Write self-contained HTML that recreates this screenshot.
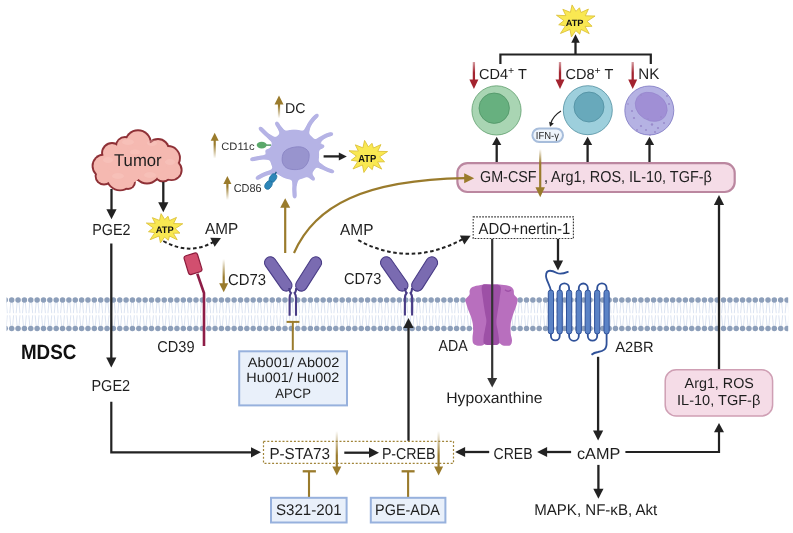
<!DOCTYPE html>
<html><head><meta charset="utf-8"><style>
html,body{margin:0;padding:0;background:#fff;overflow:hidden;}
svg{display:block;will-change:transform;text-rendering:geometricPrecision;font-family:"Liberation Sans",sans-serif;}
</style></head><body>
<svg width="793" height="533" viewBox="0 0 793 533">
<defs><clipPath id="memclip"><rect x="6.5" y="290" width="781.7" height="45"/></clipPath><linearGradient id="g1" gradientUnits="userSpaceOnUse" x1="223.7" y1="259" x2="223.7" y2="292.3"><stop offset="0" stop-color="#9a7b2c" stop-opacity="0.0"/><stop offset="0.55" stop-color="#9a7b2c" stop-opacity="1"/></linearGradient><linearGradient id="g2" gradientUnits="userSpaceOnUse" x1="336.8" y1="431" x2="336.8" y2="475.5"><stop offset="0" stop-color="#9a7b2c" stop-opacity="0.0"/><stop offset="0.55" stop-color="#9a7b2c" stop-opacity="1"/></linearGradient><linearGradient id="g3" gradientUnits="userSpaceOnUse" x1="438.6" y1="431" x2="438.6" y2="475.5"><stop offset="0" stop-color="#9a7b2c" stop-opacity="0.0"/><stop offset="0.55" stop-color="#9a7b2c" stop-opacity="1"/></linearGradient><linearGradient id="g4" gradientUnits="userSpaceOnUse" x1="540.2" y1="149" x2="540.2" y2="197.3"><stop offset="0" stop-color="#9a7b2c" stop-opacity="0.0"/><stop offset="0.3" stop-color="#9a7b2c" stop-opacity="1"/></linearGradient><linearGradient id="g5" gradientUnits="userSpaceOnUse" x1="473.9" y1="62" x2="473.9" y2="89"><stop offset="0" stop-color="#a3232f" stop-opacity="0.45"/><stop offset="0.4" stop-color="#a3232f" stop-opacity="1"/></linearGradient><linearGradient id="g6" gradientUnits="userSpaceOnUse" x1="560" y1="62" x2="560" y2="89"><stop offset="0" stop-color="#a3232f" stop-opacity="0.45"/><stop offset="0.4" stop-color="#a3232f" stop-opacity="1"/></linearGradient><linearGradient id="g7" gradientUnits="userSpaceOnUse" x1="632.7" y1="62" x2="632.7" y2="89"><stop offset="0" stop-color="#a3232f" stop-opacity="0.45"/><stop offset="0.4" stop-color="#a3232f" stop-opacity="1"/></linearGradient><filter id="goo" x="-20%" y="-20%" width="140%" height="140%"><feGaussianBlur in="SourceGraphic" stdDeviation="1.6" result="b"/><feColorMatrix in="b" mode="matrix" values="1 0 0 0 0  0 1 0 0 0  0 0 1 0 0  0 0 0 4.5 -1.9" result="g"/></filter><linearGradient id="g8" gradientUnits="userSpaceOnUse" x1="279" y1="118.3" x2="279" y2="95.6"><stop offset="0" stop-color="#9a7b2c" stop-opacity="0.0"/><stop offset="0.55" stop-color="#9a7b2c" stop-opacity="1"/></linearGradient><linearGradient id="g9" gradientUnits="userSpaceOnUse" x1="214.7" y1="158.6" x2="214.7" y2="132.7"><stop offset="0" stop-color="#9a7b2c" stop-opacity="0.0"/><stop offset="0.55" stop-color="#9a7b2c" stop-opacity="1"/></linearGradient><linearGradient id="g10" gradientUnits="userSpaceOnUse" x1="227.4" y1="200" x2="227.4" y2="176"><stop offset="0" stop-color="#9a7b2c" stop-opacity="0.0"/><stop offset="0.55" stop-color="#9a7b2c" stop-opacity="1"/></linearGradient></defs>
<rect width="793" height="533" fill="#fff"/>
<g clip-path="url(#memclip)">
<path d="M4.44 302 L3.44 313.2 M6.24 302 L7.24 313.2 M4.44 326.5 L3.44 315.3 M6.24 326.5 L7.24 315.3" stroke="#cfd9ec" stroke-width="0.75" fill="none"/>
<path d="M10.8 302 L9.8 313.2 M12.6 302 L13.6 313.2 M10.8 326.5 L9.8 315.3 M12.6 326.5 L13.6 315.3" stroke="#cfd9ec" stroke-width="0.75" fill="none"/>
<path d="M17.16 302 L16.16 313.2 M18.96 302 L19.96 313.2 M17.16 326.5 L16.16 315.3 M18.96 326.5 L19.96 315.3" stroke="#cfd9ec" stroke-width="0.75" fill="none"/>
<path d="M23.51 302 L22.51 313.2 M25.31 302 L26.31 313.2 M23.51 326.5 L22.51 315.3 M25.31 326.5 L26.31 315.3" stroke="#cfd9ec" stroke-width="0.75" fill="none"/>
<path d="M29.87 302 L28.87 313.2 M31.67 302 L32.67 313.2 M29.87 326.5 L28.87 315.3 M31.67 326.5 L32.67 315.3" stroke="#cfd9ec" stroke-width="0.75" fill="none"/>
<path d="M36.22 302 L35.22 313.2 M38.02 302 L39.02 313.2 M36.22 326.5 L35.22 315.3 M38.02 326.5 L39.02 315.3" stroke="#cfd9ec" stroke-width="0.75" fill="none"/>
<path d="M42.58 302 L41.58 313.2 M44.38 302 L45.38 313.2 M42.58 326.5 L41.58 315.3 M44.38 326.5 L45.38 315.3" stroke="#cfd9ec" stroke-width="0.75" fill="none"/>
<path d="M48.93 302 L47.93 313.2 M50.73 302 L51.73 313.2 M48.93 326.5 L47.93 315.3 M50.73 326.5 L51.73 315.3" stroke="#cfd9ec" stroke-width="0.75" fill="none"/>
<path d="M55.29 302 L54.29 313.2 M57.09 302 L58.09 313.2 M55.29 326.5 L54.29 315.3 M57.09 326.5 L58.09 315.3" stroke="#cfd9ec" stroke-width="0.75" fill="none"/>
<path d="M61.64 302 L60.64 313.2 M63.44 302 L64.44 313.2 M61.64 326.5 L60.64 315.3 M63.44 326.5 L64.44 315.3" stroke="#cfd9ec" stroke-width="0.75" fill="none"/>
<path d="M68 302 L67 313.2 M69.8 302 L70.8 313.2 M68 326.5 L67 315.3 M69.8 326.5 L70.8 315.3" stroke="#cfd9ec" stroke-width="0.75" fill="none"/>
<path d="M74.35 302 L73.35 313.2 M76.15 302 L77.15 313.2 M74.35 326.5 L73.35 315.3 M76.15 326.5 L77.15 315.3" stroke="#cfd9ec" stroke-width="0.75" fill="none"/>
<path d="M80.71 302 L79.71 313.2 M82.51 302 L83.51 313.2 M80.71 326.5 L79.71 315.3 M82.51 326.5 L83.51 315.3" stroke="#cfd9ec" stroke-width="0.75" fill="none"/>
<path d="M87.06 302 L86.06 313.2 M88.86 302 L89.86 313.2 M87.06 326.5 L86.06 315.3 M88.86 326.5 L89.86 315.3" stroke="#cfd9ec" stroke-width="0.75" fill="none"/>
<path d="M93.42 302 L92.42 313.2 M95.22 302 L96.22 313.2 M93.42 326.5 L92.42 315.3 M95.22 326.5 L96.22 315.3" stroke="#cfd9ec" stroke-width="0.75" fill="none"/>
<path d="M99.78 302 L98.78 313.2 M101.58 302 L102.58 313.2 M99.78 326.5 L98.78 315.3 M101.58 326.5 L102.58 315.3" stroke="#cfd9ec" stroke-width="0.75" fill="none"/>
<path d="M106.13 302 L105.13 313.2 M107.93 302 L108.93 313.2 M106.13 326.5 L105.13 315.3 M107.93 326.5 L108.93 315.3" stroke="#cfd9ec" stroke-width="0.75" fill="none"/>
<path d="M112.49 302 L111.49 313.2 M114.29 302 L115.29 313.2 M112.49 326.5 L111.49 315.3 M114.29 326.5 L115.29 315.3" stroke="#cfd9ec" stroke-width="0.75" fill="none"/>
<path d="M118.84 302 L117.84 313.2 M120.64 302 L121.64 313.2 M118.84 326.5 L117.84 315.3 M120.64 326.5 L121.64 315.3" stroke="#cfd9ec" stroke-width="0.75" fill="none"/>
<path d="M125.2 302 L124.2 313.2 M127 302 L128 313.2 M125.2 326.5 L124.2 315.3 M127 326.5 L128 315.3" stroke="#cfd9ec" stroke-width="0.75" fill="none"/>
<path d="M131.55 302 L130.55 313.2 M133.35 302 L134.35 313.2 M131.55 326.5 L130.55 315.3 M133.35 326.5 L134.35 315.3" stroke="#cfd9ec" stroke-width="0.75" fill="none"/>
<path d="M137.91 302 L136.91 313.2 M139.71 302 L140.71 313.2 M137.91 326.5 L136.91 315.3 M139.71 326.5 L140.71 315.3" stroke="#cfd9ec" stroke-width="0.75" fill="none"/>
<path d="M144.26 302 L143.26 313.2 M146.06 302 L147.06 313.2 M144.26 326.5 L143.26 315.3 M146.06 326.5 L147.06 315.3" stroke="#cfd9ec" stroke-width="0.75" fill="none"/>
<path d="M150.62 302 L149.62 313.2 M152.42 302 L153.42 313.2 M150.62 326.5 L149.62 315.3 M152.42 326.5 L153.42 315.3" stroke="#cfd9ec" stroke-width="0.75" fill="none"/>
<path d="M156.97 302 L155.97 313.2 M158.77 302 L159.77 313.2 M156.97 326.5 L155.97 315.3 M158.77 326.5 L159.77 315.3" stroke="#cfd9ec" stroke-width="0.75" fill="none"/>
<path d="M163.33 302 L162.33 313.2 M165.13 302 L166.13 313.2 M163.33 326.5 L162.33 315.3 M165.13 326.5 L166.13 315.3" stroke="#cfd9ec" stroke-width="0.75" fill="none"/>
<path d="M169.68 302 L168.68 313.2 M171.48 302 L172.48 313.2 M169.68 326.5 L168.68 315.3 M171.48 326.5 L172.48 315.3" stroke="#cfd9ec" stroke-width="0.75" fill="none"/>
<path d="M176.04 302 L175.04 313.2 M177.84 302 L178.84 313.2 M176.04 326.5 L175.04 315.3 M177.84 326.5 L178.84 315.3" stroke="#cfd9ec" stroke-width="0.75" fill="none"/>
<path d="M182.4 302 L181.4 313.2 M184.2 302 L185.2 313.2 M182.4 326.5 L181.4 315.3 M184.2 326.5 L185.2 315.3" stroke="#cfd9ec" stroke-width="0.75" fill="none"/>
<path d="M188.75 302 L187.75 313.2 M190.55 302 L191.55 313.2 M188.75 326.5 L187.75 315.3 M190.55 326.5 L191.55 315.3" stroke="#cfd9ec" stroke-width="0.75" fill="none"/>
<path d="M195.11 302 L194.11 313.2 M196.91 302 L197.91 313.2 M195.11 326.5 L194.11 315.3 M196.91 326.5 L197.91 315.3" stroke="#cfd9ec" stroke-width="0.75" fill="none"/>
<path d="M201.46 302 L200.46 313.2 M203.26 302 L204.26 313.2 M201.46 326.5 L200.46 315.3 M203.26 326.5 L204.26 315.3" stroke="#cfd9ec" stroke-width="0.75" fill="none"/>
<path d="M207.82 302 L206.82 313.2 M209.62 302 L210.62 313.2 M207.82 326.5 L206.82 315.3 M209.62 326.5 L210.62 315.3" stroke="#cfd9ec" stroke-width="0.75" fill="none"/>
<path d="M214.17 302 L213.17 313.2 M215.97 302 L216.97 313.2 M214.17 326.5 L213.17 315.3 M215.97 326.5 L216.97 315.3" stroke="#cfd9ec" stroke-width="0.75" fill="none"/>
<path d="M220.53 302 L219.53 313.2 M222.33 302 L223.33 313.2 M220.53 326.5 L219.53 315.3 M222.33 326.5 L223.33 315.3" stroke="#cfd9ec" stroke-width="0.75" fill="none"/>
<path d="M226.88 302 L225.88 313.2 M228.68 302 L229.68 313.2 M226.88 326.5 L225.88 315.3 M228.68 326.5 L229.68 315.3" stroke="#cfd9ec" stroke-width="0.75" fill="none"/>
<path d="M233.24 302 L232.24 313.2 M235.04 302 L236.04 313.2 M233.24 326.5 L232.24 315.3 M235.04 326.5 L236.04 315.3" stroke="#cfd9ec" stroke-width="0.75" fill="none"/>
<path d="M239.59 302 L238.59 313.2 M241.39 302 L242.39 313.2 M239.59 326.5 L238.59 315.3 M241.39 326.5 L242.39 315.3" stroke="#cfd9ec" stroke-width="0.75" fill="none"/>
<path d="M245.95 302 L244.95 313.2 M247.75 302 L248.75 313.2 M245.95 326.5 L244.95 315.3 M247.75 326.5 L248.75 315.3" stroke="#cfd9ec" stroke-width="0.75" fill="none"/>
<path d="M252.3 302 L251.3 313.2 M254.1 302 L255.1 313.2 M252.3 326.5 L251.3 315.3 M254.1 326.5 L255.1 315.3" stroke="#cfd9ec" stroke-width="0.75" fill="none"/>
<path d="M258.66 302 L257.66 313.2 M260.46 302 L261.46 313.2 M258.66 326.5 L257.66 315.3 M260.46 326.5 L261.46 315.3" stroke="#cfd9ec" stroke-width="0.75" fill="none"/>
<path d="M265.01 302 L264.01 313.2 M266.81 302 L267.81 313.2 M265.01 326.5 L264.01 315.3 M266.81 326.5 L267.81 315.3" stroke="#cfd9ec" stroke-width="0.75" fill="none"/>
<path d="M271.37 302 L270.37 313.2 M273.17 302 L274.17 313.2 M271.37 326.5 L270.37 315.3 M273.17 326.5 L274.17 315.3" stroke="#cfd9ec" stroke-width="0.75" fill="none"/>
<path d="M277.73 302 L276.73 313.2 M279.53 302 L280.53 313.2 M277.73 326.5 L276.73 315.3 M279.53 326.5 L280.53 315.3" stroke="#cfd9ec" stroke-width="0.75" fill="none"/>
<path d="M284.08 302 L283.08 313.2 M285.88 302 L286.88 313.2 M284.08 326.5 L283.08 315.3 M285.88 326.5 L286.88 315.3" stroke="#cfd9ec" stroke-width="0.75" fill="none"/>
<path d="M290.44 302 L289.44 313.2 M292.24 302 L293.24 313.2 M290.44 326.5 L289.44 315.3 M292.24 326.5 L293.24 315.3" stroke="#cfd9ec" stroke-width="0.75" fill="none"/>
<path d="M296.79 302 L295.79 313.2 M298.59 302 L299.59 313.2 M296.79 326.5 L295.79 315.3 M298.59 326.5 L299.59 315.3" stroke="#cfd9ec" stroke-width="0.75" fill="none"/>
<path d="M303.15 302 L302.15 313.2 M304.95 302 L305.95 313.2 M303.15 326.5 L302.15 315.3 M304.95 326.5 L305.95 315.3" stroke="#cfd9ec" stroke-width="0.75" fill="none"/>
<path d="M309.5 302 L308.5 313.2 M311.3 302 L312.3 313.2 M309.5 326.5 L308.5 315.3 M311.3 326.5 L312.3 315.3" stroke="#cfd9ec" stroke-width="0.75" fill="none"/>
<path d="M315.86 302 L314.86 313.2 M317.66 302 L318.66 313.2 M315.86 326.5 L314.86 315.3 M317.66 326.5 L318.66 315.3" stroke="#cfd9ec" stroke-width="0.75" fill="none"/>
<path d="M322.21 302 L321.21 313.2 M324.01 302 L325.01 313.2 M322.21 326.5 L321.21 315.3 M324.01 326.5 L325.01 315.3" stroke="#cfd9ec" stroke-width="0.75" fill="none"/>
<path d="M328.57 302 L327.57 313.2 M330.37 302 L331.37 313.2 M328.57 326.5 L327.57 315.3 M330.37 326.5 L331.37 315.3" stroke="#cfd9ec" stroke-width="0.75" fill="none"/>
<path d="M334.92 302 L333.92 313.2 M336.72 302 L337.72 313.2 M334.92 326.5 L333.92 315.3 M336.72 326.5 L337.72 315.3" stroke="#cfd9ec" stroke-width="0.75" fill="none"/>
<path d="M341.28 302 L340.28 313.2 M343.08 302 L344.08 313.2 M341.28 326.5 L340.28 315.3 M343.08 326.5 L344.08 315.3" stroke="#cfd9ec" stroke-width="0.75" fill="none"/>
<path d="M347.63 302 L346.63 313.2 M349.43 302 L350.43 313.2 M347.63 326.5 L346.63 315.3 M349.43 326.5 L350.43 315.3" stroke="#cfd9ec" stroke-width="0.75" fill="none"/>
<path d="M353.99 302 L352.99 313.2 M355.79 302 L356.79 313.2 M353.99 326.5 L352.99 315.3 M355.79 326.5 L356.79 315.3" stroke="#cfd9ec" stroke-width="0.75" fill="none"/>
<path d="M360.35 302 L359.35 313.2 M362.15 302 L363.15 313.2 M360.35 326.5 L359.35 315.3 M362.15 326.5 L363.15 315.3" stroke="#cfd9ec" stroke-width="0.75" fill="none"/>
<path d="M366.7 302 L365.7 313.2 M368.5 302 L369.5 313.2 M366.7 326.5 L365.7 315.3 M368.5 326.5 L369.5 315.3" stroke="#cfd9ec" stroke-width="0.75" fill="none"/>
<path d="M373.06 302 L372.06 313.2 M374.86 302 L375.86 313.2 M373.06 326.5 L372.06 315.3 M374.86 326.5 L375.86 315.3" stroke="#cfd9ec" stroke-width="0.75" fill="none"/>
<path d="M379.41 302 L378.41 313.2 M381.21 302 L382.21 313.2 M379.41 326.5 L378.41 315.3 M381.21 326.5 L382.21 315.3" stroke="#cfd9ec" stroke-width="0.75" fill="none"/>
<path d="M385.77 302 L384.77 313.2 M387.57 302 L388.57 313.2 M385.77 326.5 L384.77 315.3 M387.57 326.5 L388.57 315.3" stroke="#cfd9ec" stroke-width="0.75" fill="none"/>
<path d="M392.12 302 L391.12 313.2 M393.92 302 L394.92 313.2 M392.12 326.5 L391.12 315.3 M393.92 326.5 L394.92 315.3" stroke="#cfd9ec" stroke-width="0.75" fill="none"/>
<path d="M398.48 302 L397.48 313.2 M400.28 302 L401.28 313.2 M398.48 326.5 L397.48 315.3 M400.28 326.5 L401.28 315.3" stroke="#cfd9ec" stroke-width="0.75" fill="none"/>
<path d="M404.83 302 L403.83 313.2 M406.63 302 L407.63 313.2 M404.83 326.5 L403.83 315.3 M406.63 326.5 L407.63 315.3" stroke="#cfd9ec" stroke-width="0.75" fill="none"/>
<path d="M411.19 302 L410.19 313.2 M412.99 302 L413.99 313.2 M411.19 326.5 L410.19 315.3 M412.99 326.5 L413.99 315.3" stroke="#cfd9ec" stroke-width="0.75" fill="none"/>
<path d="M417.54 302 L416.54 313.2 M419.34 302 L420.34 313.2 M417.54 326.5 L416.54 315.3 M419.34 326.5 L420.34 315.3" stroke="#cfd9ec" stroke-width="0.75" fill="none"/>
<path d="M423.9 302 L422.9 313.2 M425.7 302 L426.7 313.2 M423.9 326.5 L422.9 315.3 M425.7 326.5 L426.7 315.3" stroke="#cfd9ec" stroke-width="0.75" fill="none"/>
<path d="M430.25 302 L429.25 313.2 M432.05 302 L433.05 313.2 M430.25 326.5 L429.25 315.3 M432.05 326.5 L433.05 315.3" stroke="#cfd9ec" stroke-width="0.75" fill="none"/>
<path d="M436.61 302 L435.61 313.2 M438.41 302 L439.41 313.2 M436.61 326.5 L435.61 315.3 M438.41 326.5 L439.41 315.3" stroke="#cfd9ec" stroke-width="0.75" fill="none"/>
<path d="M442.97 302 L441.97 313.2 M444.77 302 L445.77 313.2 M442.97 326.5 L441.97 315.3 M444.77 326.5 L445.77 315.3" stroke="#cfd9ec" stroke-width="0.75" fill="none"/>
<path d="M449.32 302 L448.32 313.2 M451.12 302 L452.12 313.2 M449.32 326.5 L448.32 315.3 M451.12 326.5 L452.12 315.3" stroke="#cfd9ec" stroke-width="0.75" fill="none"/>
<path d="M455.68 302 L454.68 313.2 M457.48 302 L458.48 313.2 M455.68 326.5 L454.68 315.3 M457.48 326.5 L458.48 315.3" stroke="#cfd9ec" stroke-width="0.75" fill="none"/>
<path d="M462.03 302 L461.03 313.2 M463.83 302 L464.83 313.2 M462.03 326.5 L461.03 315.3 M463.83 326.5 L464.83 315.3" stroke="#cfd9ec" stroke-width="0.75" fill="none"/>
<path d="M468.39 302 L467.39 313.2 M470.19 302 L471.19 313.2 M468.39 326.5 L467.39 315.3 M470.19 326.5 L471.19 315.3" stroke="#cfd9ec" stroke-width="0.75" fill="none"/>
<path d="M474.74 302 L473.74 313.2 M476.54 302 L477.54 313.2 M474.74 326.5 L473.74 315.3 M476.54 326.5 L477.54 315.3" stroke="#cfd9ec" stroke-width="0.75" fill="none"/>
<path d="M481.1 302 L480.1 313.2 M482.9 302 L483.9 313.2 M481.1 326.5 L480.1 315.3 M482.9 326.5 L483.9 315.3" stroke="#cfd9ec" stroke-width="0.75" fill="none"/>
<path d="M487.45 302 L486.45 313.2 M489.25 302 L490.25 313.2 M487.45 326.5 L486.45 315.3 M489.25 326.5 L490.25 315.3" stroke="#cfd9ec" stroke-width="0.75" fill="none"/>
<path d="M493.81 302 L492.81 313.2 M495.61 302 L496.61 313.2 M493.81 326.5 L492.81 315.3 M495.61 326.5 L496.61 315.3" stroke="#cfd9ec" stroke-width="0.75" fill="none"/>
<path d="M500.16 302 L499.16 313.2 M501.96 302 L502.96 313.2 M500.16 326.5 L499.16 315.3 M501.96 326.5 L502.96 315.3" stroke="#cfd9ec" stroke-width="0.75" fill="none"/>
<path d="M506.52 302 L505.52 313.2 M508.32 302 L509.32 313.2 M506.52 326.5 L505.52 315.3 M508.32 326.5 L509.32 315.3" stroke="#cfd9ec" stroke-width="0.75" fill="none"/>
<path d="M512.87 302 L511.87 313.2 M514.67 302 L515.67 313.2 M512.87 326.5 L511.87 315.3 M514.67 326.5 L515.67 315.3" stroke="#cfd9ec" stroke-width="0.75" fill="none"/>
<path d="M519.23 302 L518.23 313.2 M521.03 302 L522.03 313.2 M519.23 326.5 L518.23 315.3 M521.03 326.5 L522.03 315.3" stroke="#cfd9ec" stroke-width="0.75" fill="none"/>
<path d="M525.59 302 L524.59 313.2 M527.39 302 L528.39 313.2 M525.59 326.5 L524.59 315.3 M527.39 326.5 L528.39 315.3" stroke="#cfd9ec" stroke-width="0.75" fill="none"/>
<path d="M531.94 302 L530.94 313.2 M533.74 302 L534.74 313.2 M531.94 326.5 L530.94 315.3 M533.74 326.5 L534.74 315.3" stroke="#cfd9ec" stroke-width="0.75" fill="none"/>
<path d="M538.3 302 L537.3 313.2 M540.1 302 L541.1 313.2 M538.3 326.5 L537.3 315.3 M540.1 326.5 L541.1 315.3" stroke="#cfd9ec" stroke-width="0.75" fill="none"/>
<path d="M544.65 302 L543.65 313.2 M546.45 302 L547.45 313.2 M544.65 326.5 L543.65 315.3 M546.45 326.5 L547.45 315.3" stroke="#cfd9ec" stroke-width="0.75" fill="none"/>
<path d="M551.01 302 L550.01 313.2 M552.81 302 L553.81 313.2 M551.01 326.5 L550.01 315.3 M552.81 326.5 L553.81 315.3" stroke="#cfd9ec" stroke-width="0.75" fill="none"/>
<path d="M557.36 302 L556.36 313.2 M559.16 302 L560.16 313.2 M557.36 326.5 L556.36 315.3 M559.16 326.5 L560.16 315.3" stroke="#cfd9ec" stroke-width="0.75" fill="none"/>
<path d="M563.72 302 L562.72 313.2 M565.52 302 L566.52 313.2 M563.72 326.5 L562.72 315.3 M565.52 326.5 L566.52 315.3" stroke="#cfd9ec" stroke-width="0.75" fill="none"/>
<path d="M570.07 302 L569.07 313.2 M571.87 302 L572.87 313.2 M570.07 326.5 L569.07 315.3 M571.87 326.5 L572.87 315.3" stroke="#cfd9ec" stroke-width="0.75" fill="none"/>
<path d="M576.43 302 L575.43 313.2 M578.23 302 L579.23 313.2 M576.43 326.5 L575.43 315.3 M578.23 326.5 L579.23 315.3" stroke="#cfd9ec" stroke-width="0.75" fill="none"/>
<path d="M582.78 302 L581.78 313.2 M584.58 302 L585.58 313.2 M582.78 326.5 L581.78 315.3 M584.58 326.5 L585.58 315.3" stroke="#cfd9ec" stroke-width="0.75" fill="none"/>
<path d="M589.14 302 L588.14 313.2 M590.94 302 L591.94 313.2 M589.14 326.5 L588.14 315.3 M590.94 326.5 L591.94 315.3" stroke="#cfd9ec" stroke-width="0.75" fill="none"/>
<path d="M595.49 302 L594.49 313.2 M597.29 302 L598.29 313.2 M595.49 326.5 L594.49 315.3 M597.29 326.5 L598.29 315.3" stroke="#cfd9ec" stroke-width="0.75" fill="none"/>
<path d="M601.85 302 L600.85 313.2 M603.65 302 L604.65 313.2 M601.85 326.5 L600.85 315.3 M603.65 326.5 L604.65 315.3" stroke="#cfd9ec" stroke-width="0.75" fill="none"/>
<path d="M608.2 302 L607.2 313.2 M610 302 L611 313.2 M608.2 326.5 L607.2 315.3 M610 326.5 L611 315.3" stroke="#cfd9ec" stroke-width="0.75" fill="none"/>
<path d="M614.56 302 L613.56 313.2 M616.36 302 L617.36 313.2 M614.56 326.5 L613.56 315.3 M616.36 326.5 L617.36 315.3" stroke="#cfd9ec" stroke-width="0.75" fill="none"/>
<path d="M620.92 302 L619.92 313.2 M622.72 302 L623.72 313.2 M620.92 326.5 L619.92 315.3 M622.72 326.5 L623.72 315.3" stroke="#cfd9ec" stroke-width="0.75" fill="none"/>
<path d="M627.27 302 L626.27 313.2 M629.07 302 L630.07 313.2 M627.27 326.5 L626.27 315.3 M629.07 326.5 L630.07 315.3" stroke="#cfd9ec" stroke-width="0.75" fill="none"/>
<path d="M633.63 302 L632.63 313.2 M635.43 302 L636.43 313.2 M633.63 326.5 L632.63 315.3 M635.43 326.5 L636.43 315.3" stroke="#cfd9ec" stroke-width="0.75" fill="none"/>
<path d="M639.98 302 L638.98 313.2 M641.78 302 L642.78 313.2 M639.98 326.5 L638.98 315.3 M641.78 326.5 L642.78 315.3" stroke="#cfd9ec" stroke-width="0.75" fill="none"/>
<path d="M646.34 302 L645.34 313.2 M648.14 302 L649.14 313.2 M646.34 326.5 L645.34 315.3 M648.14 326.5 L649.14 315.3" stroke="#cfd9ec" stroke-width="0.75" fill="none"/>
<path d="M652.69 302 L651.69 313.2 M654.49 302 L655.49 313.2 M652.69 326.5 L651.69 315.3 M654.49 326.5 L655.49 315.3" stroke="#cfd9ec" stroke-width="0.75" fill="none"/>
<path d="M659.05 302 L658.05 313.2 M660.85 302 L661.85 313.2 M659.05 326.5 L658.05 315.3 M660.85 326.5 L661.85 315.3" stroke="#cfd9ec" stroke-width="0.75" fill="none"/>
<path d="M665.4 302 L664.4 313.2 M667.2 302 L668.2 313.2 M665.4 326.5 L664.4 315.3 M667.2 326.5 L668.2 315.3" stroke="#cfd9ec" stroke-width="0.75" fill="none"/>
<path d="M671.76 302 L670.76 313.2 M673.56 302 L674.56 313.2 M671.76 326.5 L670.76 315.3 M673.56 326.5 L674.56 315.3" stroke="#cfd9ec" stroke-width="0.75" fill="none"/>
<path d="M678.11 302 L677.11 313.2 M679.91 302 L680.91 313.2 M678.11 326.5 L677.11 315.3 M679.91 326.5 L680.91 315.3" stroke="#cfd9ec" stroke-width="0.75" fill="none"/>
<path d="M684.47 302 L683.47 313.2 M686.27 302 L687.27 313.2 M684.47 326.5 L683.47 315.3 M686.27 326.5 L687.27 315.3" stroke="#cfd9ec" stroke-width="0.75" fill="none"/>
<path d="M690.82 302 L689.82 313.2 M692.62 302 L693.62 313.2 M690.82 326.5 L689.82 315.3 M692.62 326.5 L693.62 315.3" stroke="#cfd9ec" stroke-width="0.75" fill="none"/>
<path d="M697.18 302 L696.18 313.2 M698.98 302 L699.98 313.2 M697.18 326.5 L696.18 315.3 M698.98 326.5 L699.98 315.3" stroke="#cfd9ec" stroke-width="0.75" fill="none"/>
<path d="M703.54 302 L702.54 313.2 M705.34 302 L706.34 313.2 M703.54 326.5 L702.54 315.3 M705.34 326.5 L706.34 315.3" stroke="#cfd9ec" stroke-width="0.75" fill="none"/>
<path d="M709.89 302 L708.89 313.2 M711.69 302 L712.69 313.2 M709.89 326.5 L708.89 315.3 M711.69 326.5 L712.69 315.3" stroke="#cfd9ec" stroke-width="0.75" fill="none"/>
<path d="M716.25 302 L715.25 313.2 M718.05 302 L719.05 313.2 M716.25 326.5 L715.25 315.3 M718.05 326.5 L719.05 315.3" stroke="#cfd9ec" stroke-width="0.75" fill="none"/>
<path d="M722.6 302 L721.6 313.2 M724.4 302 L725.4 313.2 M722.6 326.5 L721.6 315.3 M724.4 326.5 L725.4 315.3" stroke="#cfd9ec" stroke-width="0.75" fill="none"/>
<path d="M728.96 302 L727.96 313.2 M730.76 302 L731.76 313.2 M728.96 326.5 L727.96 315.3 M730.76 326.5 L731.76 315.3" stroke="#cfd9ec" stroke-width="0.75" fill="none"/>
<path d="M735.31 302 L734.31 313.2 M737.11 302 L738.11 313.2 M735.31 326.5 L734.31 315.3 M737.11 326.5 L738.11 315.3" stroke="#cfd9ec" stroke-width="0.75" fill="none"/>
<path d="M741.67 302 L740.67 313.2 M743.47 302 L744.47 313.2 M741.67 326.5 L740.67 315.3 M743.47 326.5 L744.47 315.3" stroke="#cfd9ec" stroke-width="0.75" fill="none"/>
<path d="M748.02 302 L747.02 313.2 M749.82 302 L750.82 313.2 M748.02 326.5 L747.02 315.3 M749.82 326.5 L750.82 315.3" stroke="#cfd9ec" stroke-width="0.75" fill="none"/>
<path d="M754.38 302 L753.38 313.2 M756.18 302 L757.18 313.2 M754.38 326.5 L753.38 315.3 M756.18 326.5 L757.18 315.3" stroke="#cfd9ec" stroke-width="0.75" fill="none"/>
<path d="M760.73 302 L759.73 313.2 M762.53 302 L763.53 313.2 M760.73 326.5 L759.73 315.3 M762.53 326.5 L763.53 315.3" stroke="#cfd9ec" stroke-width="0.75" fill="none"/>
<path d="M767.09 302 L766.09 313.2 M768.89 302 L769.89 313.2 M767.09 326.5 L766.09 315.3 M768.89 326.5 L769.89 315.3" stroke="#cfd9ec" stroke-width="0.75" fill="none"/>
<path d="M773.44 302 L772.44 313.2 M775.24 302 L776.24 313.2 M773.44 326.5 L772.44 315.3 M775.24 326.5 L776.24 315.3" stroke="#cfd9ec" stroke-width="0.75" fill="none"/>
<path d="M779.8 302 L778.8 313.2 M781.6 302 L782.6 313.2 M779.8 326.5 L778.8 315.3 M781.6 326.5 L782.6 315.3" stroke="#cfd9ec" stroke-width="0.75" fill="none"/>
<path d="M786.16 302 L785.16 313.2 M787.96 302 L788.96 313.2 M786.16 326.5 L785.16 315.3 M787.96 326.5 L788.96 315.3" stroke="#cfd9ec" stroke-width="0.75" fill="none"/>
<circle cx="5.34" cy="300" r="2.75" fill="#8d9fba"/><circle cx="5.34" cy="328.5" r="2.75" fill="#8d9fba"/>
<circle cx="11.7" cy="300" r="2.75" fill="#8d9fba"/><circle cx="11.7" cy="328.5" r="2.75" fill="#8d9fba"/>
<circle cx="18.06" cy="300" r="2.75" fill="#8d9fba"/><circle cx="18.06" cy="328.5" r="2.75" fill="#8d9fba"/>
<circle cx="24.41" cy="300" r="2.75" fill="#8d9fba"/><circle cx="24.41" cy="328.5" r="2.75" fill="#8d9fba"/>
<circle cx="30.77" cy="300" r="2.75" fill="#8d9fba"/><circle cx="30.77" cy="328.5" r="2.75" fill="#8d9fba"/>
<circle cx="37.12" cy="300" r="2.75" fill="#8d9fba"/><circle cx="37.12" cy="328.5" r="2.75" fill="#8d9fba"/>
<circle cx="43.48" cy="300" r="2.75" fill="#8d9fba"/><circle cx="43.48" cy="328.5" r="2.75" fill="#8d9fba"/>
<circle cx="49.83" cy="300" r="2.75" fill="#8d9fba"/><circle cx="49.83" cy="328.5" r="2.75" fill="#8d9fba"/>
<circle cx="56.19" cy="300" r="2.75" fill="#8d9fba"/><circle cx="56.19" cy="328.5" r="2.75" fill="#8d9fba"/>
<circle cx="62.54" cy="300" r="2.75" fill="#8d9fba"/><circle cx="62.54" cy="328.5" r="2.75" fill="#8d9fba"/>
<circle cx="68.9" cy="300" r="2.75" fill="#8d9fba"/><circle cx="68.9" cy="328.5" r="2.75" fill="#8d9fba"/>
<circle cx="75.25" cy="300" r="2.75" fill="#8d9fba"/><circle cx="75.25" cy="328.5" r="2.75" fill="#8d9fba"/>
<circle cx="81.61" cy="300" r="2.75" fill="#8d9fba"/><circle cx="81.61" cy="328.5" r="2.75" fill="#8d9fba"/>
<circle cx="87.96" cy="300" r="2.75" fill="#8d9fba"/><circle cx="87.96" cy="328.5" r="2.75" fill="#8d9fba"/>
<circle cx="94.32" cy="300" r="2.75" fill="#8d9fba"/><circle cx="94.32" cy="328.5" r="2.75" fill="#8d9fba"/>
<circle cx="100.68" cy="300" r="2.75" fill="#8d9fba"/><circle cx="100.68" cy="328.5" r="2.75" fill="#8d9fba"/>
<circle cx="107.03" cy="300" r="2.75" fill="#8d9fba"/><circle cx="107.03" cy="328.5" r="2.75" fill="#8d9fba"/>
<circle cx="113.39" cy="300" r="2.75" fill="#8d9fba"/><circle cx="113.39" cy="328.5" r="2.75" fill="#8d9fba"/>
<circle cx="119.74" cy="300" r="2.75" fill="#8d9fba"/><circle cx="119.74" cy="328.5" r="2.75" fill="#8d9fba"/>
<circle cx="126.1" cy="300" r="2.75" fill="#8d9fba"/><circle cx="126.1" cy="328.5" r="2.75" fill="#8d9fba"/>
<circle cx="132.45" cy="300" r="2.75" fill="#8d9fba"/><circle cx="132.45" cy="328.5" r="2.75" fill="#8d9fba"/>
<circle cx="138.81" cy="300" r="2.75" fill="#8d9fba"/><circle cx="138.81" cy="328.5" r="2.75" fill="#8d9fba"/>
<circle cx="145.16" cy="300" r="2.75" fill="#8d9fba"/><circle cx="145.16" cy="328.5" r="2.75" fill="#8d9fba"/>
<circle cx="151.52" cy="300" r="2.75" fill="#8d9fba"/><circle cx="151.52" cy="328.5" r="2.75" fill="#8d9fba"/>
<circle cx="157.87" cy="300" r="2.75" fill="#8d9fba"/><circle cx="157.87" cy="328.5" r="2.75" fill="#8d9fba"/>
<circle cx="164.23" cy="300" r="2.75" fill="#8d9fba"/><circle cx="164.23" cy="328.5" r="2.75" fill="#8d9fba"/>
<circle cx="170.58" cy="300" r="2.75" fill="#8d9fba"/><circle cx="170.58" cy="328.5" r="2.75" fill="#8d9fba"/>
<circle cx="176.94" cy="300" r="2.75" fill="#8d9fba"/><circle cx="176.94" cy="328.5" r="2.75" fill="#8d9fba"/>
<circle cx="183.3" cy="300" r="2.75" fill="#8d9fba"/><circle cx="183.3" cy="328.5" r="2.75" fill="#8d9fba"/>
<circle cx="189.65" cy="300" r="2.75" fill="#8d9fba"/><circle cx="189.65" cy="328.5" r="2.75" fill="#8d9fba"/>
<circle cx="196.01" cy="300" r="2.75" fill="#8d9fba"/><circle cx="196.01" cy="328.5" r="2.75" fill="#8d9fba"/>
<circle cx="202.36" cy="300" r="2.75" fill="#8d9fba"/><circle cx="202.36" cy="328.5" r="2.75" fill="#8d9fba"/>
<circle cx="208.72" cy="300" r="2.75" fill="#8d9fba"/><circle cx="208.72" cy="328.5" r="2.75" fill="#8d9fba"/>
<circle cx="215.07" cy="300" r="2.75" fill="#8d9fba"/><circle cx="215.07" cy="328.5" r="2.75" fill="#8d9fba"/>
<circle cx="221.43" cy="300" r="2.75" fill="#8d9fba"/><circle cx="221.43" cy="328.5" r="2.75" fill="#8d9fba"/>
<circle cx="227.78" cy="300" r="2.75" fill="#8d9fba"/><circle cx="227.78" cy="328.5" r="2.75" fill="#8d9fba"/>
<circle cx="234.14" cy="300" r="2.75" fill="#8d9fba"/><circle cx="234.14" cy="328.5" r="2.75" fill="#8d9fba"/>
<circle cx="240.49" cy="300" r="2.75" fill="#8d9fba"/><circle cx="240.49" cy="328.5" r="2.75" fill="#8d9fba"/>
<circle cx="246.85" cy="300" r="2.75" fill="#8d9fba"/><circle cx="246.85" cy="328.5" r="2.75" fill="#8d9fba"/>
<circle cx="253.2" cy="300" r="2.75" fill="#8d9fba"/><circle cx="253.2" cy="328.5" r="2.75" fill="#8d9fba"/>
<circle cx="259.56" cy="300" r="2.75" fill="#8d9fba"/><circle cx="259.56" cy="328.5" r="2.75" fill="#8d9fba"/>
<circle cx="265.91" cy="300" r="2.75" fill="#8d9fba"/><circle cx="265.91" cy="328.5" r="2.75" fill="#8d9fba"/>
<circle cx="272.27" cy="300" r="2.75" fill="#8d9fba"/><circle cx="272.27" cy="328.5" r="2.75" fill="#8d9fba"/>
<circle cx="278.63" cy="300" r="2.75" fill="#8d9fba"/><circle cx="278.63" cy="328.5" r="2.75" fill="#8d9fba"/>
<circle cx="284.98" cy="300" r="2.75" fill="#8d9fba"/><circle cx="284.98" cy="328.5" r="2.75" fill="#8d9fba"/>
<circle cx="291.34" cy="300" r="2.75" fill="#8d9fba"/><circle cx="291.34" cy="328.5" r="2.75" fill="#8d9fba"/>
<circle cx="297.69" cy="300" r="2.75" fill="#8d9fba"/><circle cx="297.69" cy="328.5" r="2.75" fill="#8d9fba"/>
<circle cx="304.05" cy="300" r="2.75" fill="#8d9fba"/><circle cx="304.05" cy="328.5" r="2.75" fill="#8d9fba"/>
<circle cx="310.4" cy="300" r="2.75" fill="#8d9fba"/><circle cx="310.4" cy="328.5" r="2.75" fill="#8d9fba"/>
<circle cx="316.76" cy="300" r="2.75" fill="#8d9fba"/><circle cx="316.76" cy="328.5" r="2.75" fill="#8d9fba"/>
<circle cx="323.11" cy="300" r="2.75" fill="#8d9fba"/><circle cx="323.11" cy="328.5" r="2.75" fill="#8d9fba"/>
<circle cx="329.47" cy="300" r="2.75" fill="#8d9fba"/><circle cx="329.47" cy="328.5" r="2.75" fill="#8d9fba"/>
<circle cx="335.82" cy="300" r="2.75" fill="#8d9fba"/><circle cx="335.82" cy="328.5" r="2.75" fill="#8d9fba"/>
<circle cx="342.18" cy="300" r="2.75" fill="#8d9fba"/><circle cx="342.18" cy="328.5" r="2.75" fill="#8d9fba"/>
<circle cx="348.53" cy="300" r="2.75" fill="#8d9fba"/><circle cx="348.53" cy="328.5" r="2.75" fill="#8d9fba"/>
<circle cx="354.89" cy="300" r="2.75" fill="#8d9fba"/><circle cx="354.89" cy="328.5" r="2.75" fill="#8d9fba"/>
<circle cx="361.25" cy="300" r="2.75" fill="#8d9fba"/><circle cx="361.25" cy="328.5" r="2.75" fill="#8d9fba"/>
<circle cx="367.6" cy="300" r="2.75" fill="#8d9fba"/><circle cx="367.6" cy="328.5" r="2.75" fill="#8d9fba"/>
<circle cx="373.96" cy="300" r="2.75" fill="#8d9fba"/><circle cx="373.96" cy="328.5" r="2.75" fill="#8d9fba"/>
<circle cx="380.31" cy="300" r="2.75" fill="#8d9fba"/><circle cx="380.31" cy="328.5" r="2.75" fill="#8d9fba"/>
<circle cx="386.67" cy="300" r="2.75" fill="#8d9fba"/><circle cx="386.67" cy="328.5" r="2.75" fill="#8d9fba"/>
<circle cx="393.02" cy="300" r="2.75" fill="#8d9fba"/><circle cx="393.02" cy="328.5" r="2.75" fill="#8d9fba"/>
<circle cx="399.38" cy="300" r="2.75" fill="#8d9fba"/><circle cx="399.38" cy="328.5" r="2.75" fill="#8d9fba"/>
<circle cx="405.73" cy="300" r="2.75" fill="#8d9fba"/><circle cx="405.73" cy="328.5" r="2.75" fill="#8d9fba"/>
<circle cx="412.09" cy="300" r="2.75" fill="#8d9fba"/><circle cx="412.09" cy="328.5" r="2.75" fill="#8d9fba"/>
<circle cx="418.44" cy="300" r="2.75" fill="#8d9fba"/><circle cx="418.44" cy="328.5" r="2.75" fill="#8d9fba"/>
<circle cx="424.8" cy="300" r="2.75" fill="#8d9fba"/><circle cx="424.8" cy="328.5" r="2.75" fill="#8d9fba"/>
<circle cx="431.15" cy="300" r="2.75" fill="#8d9fba"/><circle cx="431.15" cy="328.5" r="2.75" fill="#8d9fba"/>
<circle cx="437.51" cy="300" r="2.75" fill="#8d9fba"/><circle cx="437.51" cy="328.5" r="2.75" fill="#8d9fba"/>
<circle cx="443.87" cy="300" r="2.75" fill="#8d9fba"/><circle cx="443.87" cy="328.5" r="2.75" fill="#8d9fba"/>
<circle cx="450.22" cy="300" r="2.75" fill="#8d9fba"/><circle cx="450.22" cy="328.5" r="2.75" fill="#8d9fba"/>
<circle cx="456.58" cy="300" r="2.75" fill="#8d9fba"/><circle cx="456.58" cy="328.5" r="2.75" fill="#8d9fba"/>
<circle cx="462.93" cy="300" r="2.75" fill="#8d9fba"/><circle cx="462.93" cy="328.5" r="2.75" fill="#8d9fba"/>
<circle cx="469.29" cy="300" r="2.75" fill="#8d9fba"/><circle cx="469.29" cy="328.5" r="2.75" fill="#8d9fba"/>
<circle cx="475.64" cy="300" r="2.75" fill="#8d9fba"/><circle cx="475.64" cy="328.5" r="2.75" fill="#8d9fba"/>
<circle cx="482" cy="300" r="2.75" fill="#8d9fba"/><circle cx="482" cy="328.5" r="2.75" fill="#8d9fba"/>
<circle cx="488.35" cy="300" r="2.75" fill="#8d9fba"/><circle cx="488.35" cy="328.5" r="2.75" fill="#8d9fba"/>
<circle cx="494.71" cy="300" r="2.75" fill="#8d9fba"/><circle cx="494.71" cy="328.5" r="2.75" fill="#8d9fba"/>
<circle cx="501.06" cy="300" r="2.75" fill="#8d9fba"/><circle cx="501.06" cy="328.5" r="2.75" fill="#8d9fba"/>
<circle cx="507.42" cy="300" r="2.75" fill="#8d9fba"/><circle cx="507.42" cy="328.5" r="2.75" fill="#8d9fba"/>
<circle cx="513.77" cy="300" r="2.75" fill="#8d9fba"/><circle cx="513.77" cy="328.5" r="2.75" fill="#8d9fba"/>
<circle cx="520.13" cy="300" r="2.75" fill="#8d9fba"/><circle cx="520.13" cy="328.5" r="2.75" fill="#8d9fba"/>
<circle cx="526.49" cy="300" r="2.75" fill="#8d9fba"/><circle cx="526.49" cy="328.5" r="2.75" fill="#8d9fba"/>
<circle cx="532.84" cy="300" r="2.75" fill="#8d9fba"/><circle cx="532.84" cy="328.5" r="2.75" fill="#8d9fba"/>
<circle cx="539.2" cy="300" r="2.75" fill="#8d9fba"/><circle cx="539.2" cy="328.5" r="2.75" fill="#8d9fba"/>
<circle cx="545.55" cy="300" r="2.75" fill="#8d9fba"/><circle cx="545.55" cy="328.5" r="2.75" fill="#8d9fba"/>
<circle cx="551.91" cy="300" r="2.75" fill="#8d9fba"/><circle cx="551.91" cy="328.5" r="2.75" fill="#8d9fba"/>
<circle cx="558.26" cy="300" r="2.75" fill="#8d9fba"/><circle cx="558.26" cy="328.5" r="2.75" fill="#8d9fba"/>
<circle cx="564.62" cy="300" r="2.75" fill="#8d9fba"/><circle cx="564.62" cy="328.5" r="2.75" fill="#8d9fba"/>
<circle cx="570.97" cy="300" r="2.75" fill="#8d9fba"/><circle cx="570.97" cy="328.5" r="2.75" fill="#8d9fba"/>
<circle cx="577.33" cy="300" r="2.75" fill="#8d9fba"/><circle cx="577.33" cy="328.5" r="2.75" fill="#8d9fba"/>
<circle cx="583.68" cy="300" r="2.75" fill="#8d9fba"/><circle cx="583.68" cy="328.5" r="2.75" fill="#8d9fba"/>
<circle cx="590.04" cy="300" r="2.75" fill="#8d9fba"/><circle cx="590.04" cy="328.5" r="2.75" fill="#8d9fba"/>
<circle cx="596.39" cy="300" r="2.75" fill="#8d9fba"/><circle cx="596.39" cy="328.5" r="2.75" fill="#8d9fba"/>
<circle cx="602.75" cy="300" r="2.75" fill="#8d9fba"/><circle cx="602.75" cy="328.5" r="2.75" fill="#8d9fba"/>
<circle cx="609.1" cy="300" r="2.75" fill="#8d9fba"/><circle cx="609.1" cy="328.5" r="2.75" fill="#8d9fba"/>
<circle cx="615.46" cy="300" r="2.75" fill="#8d9fba"/><circle cx="615.46" cy="328.5" r="2.75" fill="#8d9fba"/>
<circle cx="621.82" cy="300" r="2.75" fill="#8d9fba"/><circle cx="621.82" cy="328.5" r="2.75" fill="#8d9fba"/>
<circle cx="628.17" cy="300" r="2.75" fill="#8d9fba"/><circle cx="628.17" cy="328.5" r="2.75" fill="#8d9fba"/>
<circle cx="634.53" cy="300" r="2.75" fill="#8d9fba"/><circle cx="634.53" cy="328.5" r="2.75" fill="#8d9fba"/>
<circle cx="640.88" cy="300" r="2.75" fill="#8d9fba"/><circle cx="640.88" cy="328.5" r="2.75" fill="#8d9fba"/>
<circle cx="647.24" cy="300" r="2.75" fill="#8d9fba"/><circle cx="647.24" cy="328.5" r="2.75" fill="#8d9fba"/>
<circle cx="653.59" cy="300" r="2.75" fill="#8d9fba"/><circle cx="653.59" cy="328.5" r="2.75" fill="#8d9fba"/>
<circle cx="659.95" cy="300" r="2.75" fill="#8d9fba"/><circle cx="659.95" cy="328.5" r="2.75" fill="#8d9fba"/>
<circle cx="666.3" cy="300" r="2.75" fill="#8d9fba"/><circle cx="666.3" cy="328.5" r="2.75" fill="#8d9fba"/>
<circle cx="672.66" cy="300" r="2.75" fill="#8d9fba"/><circle cx="672.66" cy="328.5" r="2.75" fill="#8d9fba"/>
<circle cx="679.01" cy="300" r="2.75" fill="#8d9fba"/><circle cx="679.01" cy="328.5" r="2.75" fill="#8d9fba"/>
<circle cx="685.37" cy="300" r="2.75" fill="#8d9fba"/><circle cx="685.37" cy="328.5" r="2.75" fill="#8d9fba"/>
<circle cx="691.72" cy="300" r="2.75" fill="#8d9fba"/><circle cx="691.72" cy="328.5" r="2.75" fill="#8d9fba"/>
<circle cx="698.08" cy="300" r="2.75" fill="#8d9fba"/><circle cx="698.08" cy="328.5" r="2.75" fill="#8d9fba"/>
<circle cx="704.44" cy="300" r="2.75" fill="#8d9fba"/><circle cx="704.44" cy="328.5" r="2.75" fill="#8d9fba"/>
<circle cx="710.79" cy="300" r="2.75" fill="#8d9fba"/><circle cx="710.79" cy="328.5" r="2.75" fill="#8d9fba"/>
<circle cx="717.15" cy="300" r="2.75" fill="#8d9fba"/><circle cx="717.15" cy="328.5" r="2.75" fill="#8d9fba"/>
<circle cx="723.5" cy="300" r="2.75" fill="#8d9fba"/><circle cx="723.5" cy="328.5" r="2.75" fill="#8d9fba"/>
<circle cx="729.86" cy="300" r="2.75" fill="#8d9fba"/><circle cx="729.86" cy="328.5" r="2.75" fill="#8d9fba"/>
<circle cx="736.21" cy="300" r="2.75" fill="#8d9fba"/><circle cx="736.21" cy="328.5" r="2.75" fill="#8d9fba"/>
<circle cx="742.57" cy="300" r="2.75" fill="#8d9fba"/><circle cx="742.57" cy="328.5" r="2.75" fill="#8d9fba"/>
<circle cx="748.92" cy="300" r="2.75" fill="#8d9fba"/><circle cx="748.92" cy="328.5" r="2.75" fill="#8d9fba"/>
<circle cx="755.28" cy="300" r="2.75" fill="#8d9fba"/><circle cx="755.28" cy="328.5" r="2.75" fill="#8d9fba"/>
<circle cx="761.63" cy="300" r="2.75" fill="#8d9fba"/><circle cx="761.63" cy="328.5" r="2.75" fill="#8d9fba"/>
<circle cx="767.99" cy="300" r="2.75" fill="#8d9fba"/><circle cx="767.99" cy="328.5" r="2.75" fill="#8d9fba"/>
<circle cx="774.34" cy="300" r="2.75" fill="#8d9fba"/><circle cx="774.34" cy="328.5" r="2.75" fill="#8d9fba"/>
<circle cx="780.7" cy="300" r="2.75" fill="#8d9fba"/><circle cx="780.7" cy="328.5" r="2.75" fill="#8d9fba"/>
<circle cx="787.06" cy="300" r="2.75" fill="#8d9fba"/><circle cx="787.06" cy="328.5" r="2.75" fill="#8d9fba"/>
</g>
<rect x="457.4" y="163.1" width="277.3" height="28.9" rx="10" fill="#f5dce7" stroke="#bb87a0" stroke-width="2.2"/>
<g>
<circle cx="104" cy="166" r="12.4" fill="#8e3036"/>
<circle cx="112" cy="153" r="10.9" fill="#8e3036"/>
<circle cx="125" cy="146" r="9.9" fill="#8e3036"/>
<circle cx="138" cy="143" r="13.7" fill="#8e3036"/>
<circle cx="158" cy="150" r="11.9" fill="#8e3036"/>
<circle cx="168" cy="158" r="12.9" fill="#8e3036"/>
<circle cx="171.5" cy="170" r="11.1" fill="#8e3036"/>
<circle cx="163" cy="173" r="9.4" fill="#8e3036"/>
<circle cx="147" cy="170" r="14.4" fill="#8e3036"/>
<circle cx="120" cy="177" r="14.3" fill="#8e3036"/>
<circle cx="104" cy="176" r="9.4" fill="#8e3036"/>
<circle cx="137" cy="162" r="18.9" fill="#8e3036"/>
<circle cx="128" cy="182" r="7.9" fill="#8e3036"/>
<circle cx="104" cy="166" r="10.5" fill="#f5b9b1"/>
<circle cx="112" cy="153" r="9" fill="#f5b9b1"/>
<circle cx="125" cy="146" r="8" fill="#f5b9b1"/>
<circle cx="138" cy="143" r="11.8" fill="#f5b9b1"/>
<circle cx="158" cy="150" r="10" fill="#f5b9b1"/>
<circle cx="168" cy="158" r="11" fill="#f5b9b1"/>
<circle cx="171.5" cy="170" r="9.2" fill="#f5b9b1"/>
<circle cx="163" cy="173" r="7.5" fill="#f5b9b1"/>
<circle cx="147" cy="170" r="12.5" fill="#f5b9b1"/>
<circle cx="120" cy="177" r="12.4" fill="#f5b9b1"/>
<circle cx="104" cy="176" r="7.5" fill="#f5b9b1"/>
<circle cx="137" cy="162" r="17" fill="#f5b9b1"/>
<circle cx="128" cy="182" r="6" fill="#f5b9b1"/>
<circle cx="118" cy="163" r="11" fill="#f5b9b1"/>
<circle cx="156" cy="163" r="11" fill="#f5b9b1"/>
<circle cx="130" cy="172" r="11" fill="#f5b9b1"/>
<circle cx="150" cy="152" r="9" fill="#f5b9b1"/>
<circle cx="125" cy="157" r="9" fill="#f5b9b1"/>
</g>
<ellipse cx="128" cy="142" rx="6" ry="3" fill="#fbd0c9" opacity="0.3"/>
<ellipse cx="152" cy="143" rx="5" ry="3" fill="#fbd0c9" opacity="0.3"/>
<ellipse cx="108" cy="160" rx="5" ry="3" fill="#fbd0c9" opacity="0.3"/>
<ellipse cx="170" cy="162" rx="5" ry="3" fill="#fbd0c9" opacity="0.3"/>
<ellipse cx="118" cy="176" rx="6" ry="3" fill="#fbd0c9" opacity="0.3"/>
<ellipse cx="150" cy="175" rx="6" ry="3" fill="#fbd0c9" opacity="0.3"/>
<ellipse cx="135" cy="152" rx="5" ry="2.5" fill="#fbd0c9" opacity="0.3"/>
<text x="114.04" y="166.4" font-size="17.15" font-weight="normal" fill="#1e1e1e" textLength="47.64" lengthAdjust="spacingAndGlyphs">Tumor</text>
<line x1="111.5" y1="189" x2="111.5" y2="210.3" stroke="#222222" stroke-width="2.3" />
<polygon points="111.5,219.3 106.4,209.3 116.6,209.3" fill="#222222" />
<line x1="163.3" y1="182" x2="163.3" y2="203.2" stroke="#222222" stroke-width="2.3" />
<polygon points="163.3,212.2 158.2,202.2 168.4,202.2" fill="#222222" />
<text x="92.28" y="234.9" font-size="15.84" font-weight="normal" fill="#1e1e1e" textLength="38.3" lengthAdjust="spacingAndGlyphs">PGE2</text>
<polygon points="161.08,213.63 164.68,219.55 168.04,216.26 169.43,220.57 176.48,217.45 173.51,223.59 182.75,223.78 175.21,228.61 179.93,233.11 173.3,233.26 177.21,239.8 169.51,236 168.3,240.29 164.59,237.06 160.44,242.87 159.09,236 150.14,239.66 154.84,232.68 148.48,231.7 153.39,227.92 146.34,223.06 155.25,223.4 152.37,217.67 159.51,220.43" fill="#f9e852" stroke="#dcc23a" stroke-width="0.9" stroke-linejoin="miter"/>
<text x="155.65" y="232.7" font-size="9.45" font-weight="bold" fill="#111" textLength="17.99" lengthAdjust="spacingAndGlyphs">ATP</text>
<text x="205" y="234.4" font-size="15.84" font-weight="normal" fill="#1e1e1e" textLength="33.14" lengthAdjust="spacingAndGlyphs">AMP</text>
<path d="M163.3 241 Q190 256 214 241.5" stroke="#222222" stroke-width="2" fill="none" stroke-dasharray="3.6 2.6"/>
<polygon points="221,238 214.66,246.66 210.27,237.68" fill="#222222" />
<line x1="111.3" y1="243.5" x2="111.3" y2="358.6" stroke="#222222" stroke-width="2.3" />
<polygon points="111.3,367.6 106.2,357.6 116.4,357.6" fill="#222222" />
<text x="91.47" y="390.8" font-size="15.84" font-weight="normal" fill="#1e1e1e" textLength="38.62" lengthAdjust="spacingAndGlyphs">PGE2</text>
<path d="M111.3 401.7 L111.3 452.3 L253 452.3" stroke="#222222" stroke-width="2.2" fill="none"/>
<polygon points="261,452.3 251,457.4 251,447.2" fill="#222222" />
<text x="20.93" y="359.3" font-size="20.64" font-weight="bold" fill="#111" textLength="55.33" lengthAdjust="spacingAndGlyphs">MDSC</text>
<path d="M197.3 273.8 L204 293 L204 346" stroke="#8e1d47" stroke-width="2.6" fill="none"/>
<rect x="186" y="254" width="14" height="19.5" rx="2.5" fill="#d24f6f" stroke="#8c1b3c" stroke-width="1.2" transform="rotate(-17 193 263.7)"/>
<text x="157.22" y="351.5" font-size="15.84" font-weight="normal" fill="#1e1e1e" textLength="37.27" lengthAdjust="spacingAndGlyphs">CD39</text>
<line x1="223.7" y1="259" x2="223.7" y2="284.3" stroke="url(#g1)" stroke-width="2.2" />
<polygon points="223.7,292.3 219.2,283.3 228.2,283.3" fill="#9a7b2c" />
<text x="228" y="284.5" font-size="15.84" font-weight="normal" fill="#1e1e1e" textLength="38" lengthAdjust="spacingAndGlyphs">CD73</text>
<g fill="#7a6bb1" stroke="#493c86" stroke-width="1.1">
<rect x="258.59" y="268.15" width="39.31" height="11.6" rx="5.8" transform="rotate(54.99 278.25 273.95)"/>
<rect x="289.36" y="268.15" width="38.48" height="11.6" rx="5.8" transform="rotate(122.39 308.6 273.95)"/>
</g>
<path d="M289.3 288 Q289.6 292 291 293 Q289.6 295 289.6 298 L289.6 315.7 M296.3 288 Q296 292 294.6 293 Q296 295 296 298 L296 315.7" stroke="#493c86" stroke-width="2.1" fill="none"/>
<g fill="#7a6bb1" stroke="#493c86" stroke-width="1.1">
<rect x="374.59" y="268.15" width="39.31" height="11.6" rx="5.8" transform="rotate(54.99 394.25 273.95)"/>
<rect x="405.36" y="268.15" width="38.48" height="11.6" rx="5.8" transform="rotate(122.39 424.6 273.95)"/>
</g>
<path d="M405.1 288 Q405.4 292 406.6 293 Q404.9 295 404.9 298 L404.9 315.5 M412.1 288 Q411.8 292 410.6 293 Q412.1 295 412.1 298 L412.1 315.5" stroke="#493c86" stroke-width="2.1" fill="none"/>
<line x1="285.2" y1="253" x2="285.2" y2="206.8" stroke="#9a7b2c" stroke-width="2.2" />
<polygon points="285.2,198.3 290.2,207.8 280.2,207.8" fill="#9a7b2c" />
<path d="M294 253 C315 205 365 180 465 178.2" stroke="#9a7b2c" stroke-width="2.2" fill="none"/>
<polygon points="474.2,178.2 464.2,183.2 464.2,173.2" fill="#9a7b2c" />
<line x1="292.8" y1="321.9" x2="292.8" y2="350.3" stroke="#9a7b2c" stroke-width="2" />
<line x1="286.6" y1="321.9" x2="299.4" y2="321.9" stroke="#9a7b2c" stroke-width="2" />
<rect x="239.2" y="351.3" width="107.8" height="54.1" fill="#e9f0fa" stroke="#97b1dd" stroke-width="2"/>
<text x="247.8" y="366.6" font-size="13.52" font-weight="normal" fill="#1e1e1e" textLength="91.59" lengthAdjust="spacingAndGlyphs">Ab001/ Ab002</text>
<text x="246.37" y="382.2" font-size="13.52" font-weight="normal" fill="#1e1e1e" textLength="93.01" lengthAdjust="spacingAndGlyphs">Hu001/ Hu002</text>
<text x="275.3" y="398.4" font-size="13.52" font-weight="normal" fill="#1e1e1e" textLength="35.75" lengthAdjust="spacingAndGlyphs">APCP</text>
<text x="340.1" y="234.8" font-size="15.84" font-weight="normal" fill="#1e1e1e" textLength="33.35" lengthAdjust="spacingAndGlyphs">AMP</text>
<path d="M358.2 240.2 Q410 268 463 239" stroke="#222222" stroke-width="2" fill="none" stroke-dasharray="3.6 2.6"/>
<polygon points="470.6,235.7 464.34,244.42 459.87,235.48" fill="#222222" />
<text x="343.91" y="284.3" font-size="15.84" font-weight="normal" fill="#1e1e1e" textLength="37.38" lengthAdjust="spacingAndGlyphs">CD73</text>
<path d="M492 284.3 C495.48 284.27 498.7 284.37 501.7 284.7 C504.7 285.03 508.03 285.45 510 286.3 C511.97 287.15 512.8 288.4 513.5 289.8 C514.2 291.2 513.52 293.2 514.2 294.7 C514.88 296.2 517.25 296.95 517.6 298.8 C517.95 300.65 517.1 303.02 516.3 305.8 C515.5 308.58 513.73 312.5 512.8 315.5 C511.87 318.5 511.05 320.78 510.7 323.8 C510.35 326.82 510.48 330.82 510.7 333.6 C510.92 336.38 512.12 338.53 512 340.5 C511.88 342.47 511.5 344.58 510 345.4 C508.5 346.22 504.85 345.75 503 345.4 C501.15 345.05 500.73 343.42 498.9 343.3 C497.07 343.18 494.08 344.7 492 344.7 C489.92 344.7 488.03 343.18 486.4 343.3 C484.77 343.42 483.82 345.05 482.2 345.4 C480.58 345.75 478.2 345.75 476.7 345.4 C475.2 345.05 473.9 344.58 473.2 343.3 C472.5 342.02 472.5 339.78 472.5 337.7 C472.5 335.62 473.15 333.12 473.2 330.8 C473.25 328.48 473.15 326.12 472.8 323.8 C472.45 321.48 471.85 319.2 471.1 316.9 C470.35 314.6 469.1 312.2 468.3 310 C467.5 307.8 466.8 305.45 466.3 303.7 C465.8 301.95 464.78 301 465.3 299.5 C465.82 298 468.67 296.2 469.4 294.7 C470.13 293.2 469.18 291.78 469.7 290.5 C470.22 289.22 470.65 287.93 472.5 287 C474.35 286.07 477.55 285.35 480.8 284.9 C484.05 284.45 488.52 284.33 492 284.3 Z" fill="#b86fbe"/>
<path d="M482.2 285.6 C483.55 283.3 487.98 284.88 491 285 C494.02 285.12 498.87 284 500.3 286.3 C501.73 288.6 500.07 294.4 499.6 298.8 C499.13 303.2 498.03 308.77 497.5 312.7 C496.97 316.63 496.35 319.38 496.4 322.4 C496.45 325.42 497.38 328.03 497.8 330.8 C498.22 333.57 498.83 336.73 498.9 339 C498.97 341.27 499.52 343.4 498.2 344.4 C496.88 345.4 493.32 345.07 491 345 C488.68 344.93 485.53 345.22 484.3 344 C483.07 342.78 483.48 340.13 483.6 337.7 C483.72 335.27 484.53 332.18 485 329.4 C485.47 326.62 486.4 323.78 486.4 321 C486.4 318.22 485.58 316.4 485 312.7 C484.42 309 483.37 303.32 482.9 298.8 C482.43 294.28 480.85 287.9 482.2 285.6 Z" fill="#9d50a6"/>
<path d="M505 289.8 Q508 292.5 511 290" stroke="#9d50a6" stroke-width="1.3" fill="none"/>
<rect x="473.2" y="216.8" width="100.2" height="21.7" fill="none" stroke="#3a3a3a" stroke-width="1.15" stroke-dasharray="1.7 1.3"/>
<text x="478.6" y="233.6" font-size="15.84" font-weight="normal" fill="#1e1e1e" textLength="91.81" lengthAdjust="spacingAndGlyphs">ADO+nertin-1</text>
<line x1="492.2" y1="239" x2="492.2" y2="378.9" stroke="#333" stroke-width="2.2" />
<polygon points="492.2,387.4 487.2,377.9 497.2,377.9" fill="#333" />
<line x1="558" y1="239" x2="558" y2="261.5" stroke="#222222" stroke-width="2.3" />
<polygon points="558,270.5 552.9,260.5 563.1,260.5" fill="#222222" />
<text x="438.5" y="350.8" font-size="15.84" font-weight="normal" fill="#1e1e1e" textLength="29.13" lengthAdjust="spacingAndGlyphs">ADA</text>
<g stroke="#2f5199" stroke-width="1.8" fill="none">
<path d="M551 291 C550 285 546 280 546 276 C546 268 553 271 557 273 C561 275 565 273 568.5 271.5"/>
<path d="M550.9 333 L550.9 336 A4.4 4.4 0 0 0 559.7 336 L559.7 333"/>
<path d="M559.7 291 L559.7 288 A4.7 4.7 0 0 1 569.1 288 L569.1 291"/>
<path d="M569.1 333 L569.1 336 A4.85 4.85 0 0 0 578.8 336 L578.8 333"/>
<path d="M578.8 291 L578.8 288 A4.5 4.5 0 0 1 587.8 288 L587.8 291"/>
<path d="M587.8 333 L587.8 336 A4.7 4.7 0 0 0 597.2 336 L597.2 333"/>
<path d="M597.2 291 L597.2 288 A4.7 4.7 0 0 1 606.6 288 L606.6 291"/>
<path d="M606.6 333 L606.6 342 C607 350 603 351 598 352 C595 352.5 593 353.5 591.5 354.8"/>
</g>
<rect x="548.3" y="290" width="5.2" height="44" rx="2.6" fill="#5b83c6" stroke="#2f5199" stroke-width="1"/>
<rect x="557.1" y="290" width="5.2" height="44" rx="2.6" fill="#5b83c6" stroke="#2f5199" stroke-width="1"/>
<rect x="566.5" y="290" width="5.2" height="44" rx="2.6" fill="#5b83c6" stroke="#2f5199" stroke-width="1"/>
<rect x="576.2" y="290" width="5.2" height="44" rx="2.6" fill="#5b83c6" stroke="#2f5199" stroke-width="1"/>
<rect x="585.2" y="290" width="5.2" height="44" rx="2.6" fill="#5b83c6" stroke="#2f5199" stroke-width="1"/>
<rect x="594.6" y="290" width="5.2" height="44" rx="2.6" fill="#5b83c6" stroke="#2f5199" stroke-width="1"/>
<rect x="604" y="290" width="5.2" height="44" rx="2.6" fill="#5b83c6" stroke="#2f5199" stroke-width="1"/>
<text x="615.2" y="351.6" font-size="14.83" font-weight="normal" fill="#1e1e1e" textLength="38.41" lengthAdjust="spacingAndGlyphs">A2BR</text>
<line x1="598.1" y1="356.8" x2="598.1" y2="431.5" stroke="#222222" stroke-width="2.3" />
<polygon points="598.1,440.5 593,430.5 603.2,430.5" fill="#222222" />
<text x="446.17" y="403.3" font-size="15.41" font-weight="normal" fill="#1e1e1e" textLength="96.27" lengthAdjust="spacingAndGlyphs">Hypoxanthine</text>
<rect x="263.5" y="441.3" width="190" height="22" fill="none" stroke="#a08438" stroke-width="1.2" stroke-dasharray="2 1.8"/>
<text x="269.41" y="459.1" font-size="15.84" font-weight="normal" fill="#1e1e1e" textLength="60.61" lengthAdjust="spacingAndGlyphs">P-STA73</text>
<line x1="344.3" y1="452.7" x2="370" y2="452.7" stroke="#222222" stroke-width="2.3" />
<polygon points="379,452.7 369,457.8 369,447.6" fill="#222222" />
<text x="381.89" y="459.1" font-size="15.84" font-weight="normal" fill="#1e1e1e" textLength="53.71" lengthAdjust="spacingAndGlyphs">P-CREB</text>
<line x1="336.8" y1="431" x2="336.8" y2="467.5" stroke="url(#g2)" stroke-width="2.2" />
<polygon points="336.8,475.5 332.3,466.5 341.3,466.5" fill="#9a7b2c" />
<line x1="438.6" y1="431" x2="438.6" y2="467.5" stroke="url(#g3)" stroke-width="2.2" />
<polygon points="438.6,475.5 434.1,466.5 443.1,466.5" fill="#9a7b2c" />
<line x1="408.5" y1="440.8" x2="408.5" y2="327.1" stroke="#222222" stroke-width="2.3" />
<polygon points="408.5,318.1 413.6,328.1 403.4,328.1" fill="#222222" />
<line x1="309" y1="471.3" x2="309" y2="497" stroke="#9a7b2c" stroke-width="2.1" />
<line x1="302.7" y1="471.3" x2="315.9" y2="471.3" stroke="#9a7b2c" stroke-width="2.3" />
<line x1="408.1" y1="471.3" x2="408.1" y2="497" stroke="#9a7b2c" stroke-width="2.1" />
<line x1="401.6" y1="471.3" x2="414.6" y2="471.3" stroke="#9a7b2c" stroke-width="2.3" />
<rect x="271" y="497.8" width="75.6" height="24.7" fill="#e9f0fa" stroke="#97b1dd" stroke-width="2"/>
<text x="275.93" y="515.1" font-size="15.41" font-weight="normal" fill="#1e1e1e" textLength="65.69" lengthAdjust="spacingAndGlyphs">S321-201</text>
<rect x="370.8" y="497.8" width="74.6" height="24.7" fill="#e9f0fa" stroke="#97b1dd" stroke-width="2"/>
<text x="375.07" y="515.1" font-size="15.41" font-weight="normal" fill="#1e1e1e" textLength="64.86" lengthAdjust="spacingAndGlyphs">PGE-ADA</text>
<line x1="489.2" y1="452" x2="464.1" y2="452" stroke="#222222" stroke-width="2.3" />
<polygon points="455.1,452 465.1,446.9 465.1,457.1" fill="#222222" />
<text x="493.54" y="459.1" font-size="15.84" font-weight="normal" fill="#1e1e1e" textLength="39.05" lengthAdjust="spacingAndGlyphs">CREB</text>
<line x1="571.1" y1="452" x2="546.1" y2="452" stroke="#222222" stroke-width="2.3" />
<polygon points="537.1,452 547.1,446.9 547.1,457.1" fill="#222222" />
<text x="576.99" y="459.1" font-size="15.84" font-weight="normal" fill="#1e1e1e" textLength="43.29" lengthAdjust="spacingAndGlyphs">cAMP</text>
<path d="M625.4 452 L719 452 L719 431" stroke="#222222" stroke-width="2.2" fill="none"/>
<polygon points="719,422.9 724,432.2 714,432.2" fill="#222222" />
<line x1="598.4" y1="464.9" x2="598.4" y2="489.7" stroke="#222222" stroke-width="2.3" />
<polygon points="598.4,498.7 593.3,488.7 603.5,488.7" fill="#222222" />
<text x="534.23" y="514.5" font-size="15.55" font-weight="normal" fill="#1e1e1e" textLength="123.02" lengthAdjust="spacingAndGlyphs">MAPK, NF-κB, Akt</text>
<rect x="665.2" y="369.7" width="107.4" height="46.2" rx="11" fill="#f5dce7" stroke="#cf9fb4" stroke-width="1.5"/>
<text x="684.6" y="387.9" font-size="14.39" font-weight="normal" fill="#1e1e1e" textLength="69.3" lengthAdjust="spacingAndGlyphs">Arg1, ROS</text>
<text x="677.07" y="405" font-size="14.39" font-weight="normal" fill="#1e1e1e" textLength="83.24" lengthAdjust="spacingAndGlyphs">IL-10, TGF-β</text>
<line x1="719" y1="369" x2="719" y2="204" stroke="#222222" stroke-width="2.3" />
<polygon points="719,195 724.1,205 713.9,205" fill="#222222" />
<text x="480.03" y="181.6" font-size="15.84" font-weight="normal" fill="#1e1e1e" textLength="56.54" lengthAdjust="spacingAndGlyphs">GM-CSF</text>
<text x="543.88" y="181.6" font-size="15.84" font-weight="normal" fill="#1e1e1e" textLength="168.03" lengthAdjust="spacingAndGlyphs">, Arg1, ROS, IL-10, TGF-β</text>
<line x1="540.2" y1="149" x2="540.2" y2="188.3" stroke="url(#g4)" stroke-width="2.2" />
<polygon points="540.2,197.3 535.45,187.3 544.95,187.3" fill="#9a7b2c" />
<line x1="496.7" y1="162" x2="496.7" y2="143.9" stroke="#222222" stroke-width="2.3" />
<polygon points="496.7,136.7 501.3,144.9 492.1,144.9" fill="#222222" />
<line x1="587.6" y1="162" x2="587.6" y2="143.9" stroke="#222222" stroke-width="2.3" />
<polygon points="587.6,136.7 592.2,144.9 583,144.9" fill="#222222" />
<line x1="649.5" y1="162" x2="649.5" y2="143.9" stroke="#222222" stroke-width="2.3" />
<polygon points="649.5,136.7 654.1,144.9 644.9,144.9" fill="#222222" />
<circle cx="496.5" cy="110.4" r="24.6" fill="#a9d5b3" stroke="#5f9e6d" stroke-width="0.8"/>
<circle cx="494.2" cy="108.2" r="15.2" fill="#67b07f" stroke="#4f9466" stroke-width="0.8"/>
<circle cx="587.8" cy="110.2" r="24.5" fill="#9dcfdc" stroke="#4f8ea0" stroke-width="0.8"/>
<circle cx="589" cy="107" r="15" fill="#68a9bb" stroke="#4f8ea0" stroke-width="0.8"/>
<circle cx="649.3" cy="110.5" r="24.5" fill="#b5b2e3" stroke="#7c76c1" stroke-width="0.8"/>
<ellipse cx="651.2" cy="106.8" rx="16.8" ry="13.6" transform="rotate(32 651.2 106.8)" fill="#a08fd5" stroke="#9484cc" stroke-width="0.6"/>
<circle cx="641" cy="126" r="1.1" fill="#998acb"/>
<circle cx="646" cy="130" r="1" fill="#998acb"/>
<circle cx="652" cy="124.5" r="1.2" fill="#998acb"/>
<circle cx="658" cy="128" r="1.1" fill="#998acb"/>
<circle cx="664" cy="123" r="1" fill="#998acb"/>
<circle cx="634" cy="118" r="1.1" fill="#998acb"/>
<circle cx="632" cy="111" r="1" fill="#998acb"/>
<circle cx="667" cy="96" r="0.9" fill="#998acb"/>
<circle cx="669" cy="104" r="1" fill="#998acb"/>
<circle cx="637" cy="130" r="0.9" fill="#998acb"/>
<circle cx="655" cy="132" r="1" fill="#998acb"/>
<circle cx="661" cy="117" r="0.9" fill="#998acb"/>
<circle cx="641" cy="95" r="0.9" fill="#998acb"/>
<circle cx="648" cy="119" r="0.8" fill="#998acb"/>
<circle cx="628" cy="104" r="0.8" fill="#998acb"/>
<circle cx="650" cy="135" r="0.8" fill="#998acb"/>
<line x1="473.9" y1="62" x2="473.9" y2="80.5" stroke="url(#g5)" stroke-width="2.3" />
<polygon points="473.9,89 469.4,79.5 478.4,79.5" fill="#a3232f" />
<line x1="560" y1="62" x2="560" y2="80.5" stroke="url(#g6)" stroke-width="2.3" />
<polygon points="560,89 555.5,79.5 564.5,79.5" fill="#a3232f" />
<line x1="632.7" y1="62" x2="632.7" y2="80.5" stroke="url(#g7)" stroke-width="2.3" />
<polygon points="632.7,89 628.2,79.5 637.2,79.5" fill="#a3232f" />
<text x="479" y="78.5" font-size="14.5" font-weight="normal" fill="#1e1e1e">CD4<tspan font-size="10.5" dy="-4.6">+</tspan><tspan dy="4.6"> T</tspan></text>
<text x="565.5" y="78.7" font-size="14.5" font-weight="normal" fill="#1e1e1e">CD8<tspan font-size="10.5" dy="-4.6">+</tspan><tspan dy="4.6"> T</tspan></text>
<text x="638.32" y="78.7" font-size="15.26" font-weight="normal" fill="#1e1e1e" textLength="21.05" lengthAdjust="spacingAndGlyphs">NK</text>
<path d="M500.4 64 L500.4 54.5 L650.8 54.5 L650.8 64" stroke="#222222" stroke-width="2.2" fill="none"/>
<line x1="575.5" y1="54.5" x2="575.5" y2="41.7" stroke="#222222" stroke-width="2.3" />
<polygon points="575.5,34.3 579.75,42.7 571.25,42.7" fill="#222222" />
<polygon points="572.08,4.93 575.9,11.41 579.47,7.8 580.94,12.52 588.41,9.11 585.27,15.84 595.06,16.04 587.07,21.34 592.08,26.28 585.04,26.44 589.19,33.6 581.03,29.44 579.75,34.14 575.8,30.6 571.41,36.96 569.97,29.44 560.49,33.45 565.47,25.8 558.72,24.73 563.93,20.58 556.46,15.25 565.9,15.63 562.84,9.35 570.42,12.37" fill="#f9e852" stroke="#dcc23a" stroke-width="0.9" stroke-linejoin="miter"/>
<text x="565.76" y="25.9" font-size="9.16" font-weight="bold" fill="#111" textLength="17.79" lengthAdjust="spacingAndGlyphs">ATP</text>
<path d="M561 111 C556 114 552 119 550.5 124" stroke="#222" stroke-width="1.2" fill="none"/>
<polygon points="550,126.8 549.13,121.73 553.85,123.38" fill="#222222" />
<rect x="532.4" y="128.6" width="30.6" height="13.4" rx="6.7" fill="#eef4fb" stroke="#a7bddb" stroke-width="2"/>
<text x="535.86" y="138.5" font-size="10.17" font-weight="normal" fill="#262626" textLength="23.14" lengthAdjust="spacingAndGlyphs">IFN-γ</text>
<g filter="url(#goo)">
<path d="M283 133 Q279 127 276.6 123.1" stroke="#b5b3e5" stroke-width="4.5" stroke-linecap="round" fill="none"/>
<path d="M283 133 Q282.12 131.68 281.32 130.46" stroke="#b5b3e5" stroke-width="5.6" stroke-linecap="round" fill="none"/>
<path d="M274 140 Q266 135 260.2 128.3" stroke="#b5b3e5" stroke-width="4.5" stroke-linecap="round" fill="none"/>
<path d="M274 140 Q272.24 138.9 270.59 137.72" stroke="#b5b3e5" stroke-width="5.6" stroke-linecap="round" fill="none"/>
<path d="M306 134 Q308 123 317.2 115.3" stroke="#b5b3e5" stroke-width="4.5" stroke-linecap="round" fill="none"/>
<path d="M306 134 Q306.44 131.58 307.23 129.32" stroke="#b5b3e5" stroke-width="5.6" stroke-linecap="round" fill="none"/>
<path d="M316 143 Q324 135 331.7 134.1" stroke="#b5b3e5" stroke-width="4.5" stroke-linecap="round" fill="none"/>
<path d="M316 143 Q317.76 141.24 319.51 139.82" stroke="#b5b3e5" stroke-width="5.6" stroke-linecap="round" fill="none"/>
<path d="M316 148 Q320 147 322.9 146.3" stroke="#b5b3e5" stroke-width="4.5" stroke-linecap="round" fill="none"/>
<path d="M316 148 Q316.88 147.78 317.71 147.57" stroke="#b5b3e5" stroke-width="5.6" stroke-linecap="round" fill="none"/>
<path d="M271 157 Q262 157 251.6 159.4" stroke="#b5b3e5" stroke-width="4.5" stroke-linecap="round" fill="none"/>
<path d="M271 157 Q269.02 157 266.97 157.12" stroke="#b5b3e5" stroke-width="5.6" stroke-linecap="round" fill="none"/>
<path d="M271 151 Q269 151 266.8 151.3" stroke="#b5b3e5" stroke-width="4.5" stroke-linecap="round" fill="none"/>
<path d="M271 151 Q270.56 151 270.11 151.01" stroke="#b5b3e5" stroke-width="5.6" stroke-linecap="round" fill="none"/>
<path d="M317 164 Q326 170 332.8 171.6" stroke="#b5b3e5" stroke-width="4.5" stroke-linecap="round" fill="none"/>
<path d="M317 164 Q318.98 165.32 320.85 166.43" stroke="#b5b3e5" stroke-width="5.6" stroke-linecap="round" fill="none"/>
<path d="M309 174 Q311 177 313.5 179.1" stroke="#b5b3e5" stroke-width="4.5" stroke-linecap="round" fill="none"/>
<path d="M309 174 Q309.44 174.66 309.9 175.28" stroke="#b5b3e5" stroke-width="5.6" stroke-linecap="round" fill="none"/>
<path d="M295.5 179 Q293.5 188 294.7 196.9" stroke="#b5b3e5" stroke-width="4.5" stroke-linecap="round" fill="none"/>
<path d="M295.5 179 Q295.06 180.98 294.77 182.96" stroke="#b5b3e5" stroke-width="5.6" stroke-linecap="round" fill="none"/>
<path d="M278 171 Q266 172 257.2 178.2" stroke="#b5b3e5" stroke-width="4.5" stroke-linecap="round" fill="none"/>
<path d="M278 171 Q275.36 171.22 272.87 171.69" stroke="#b5b3e5" stroke-width="5.6" stroke-linecap="round" fill="none"/>
<path d="M294.3 129.6 C308 129.6 319.5 140 319.3 155 C319 170 308 180 294.3 180 C280 180 269.5 170 269.5 155 C269.5 140 280 129.6 294.3 129.6 Z" fill="#b5b3e5"/>
</g>
<path d="M282.2 161 C281.87 158.42 282.37 154.23 284 152 C285.63 149.77 289 148.4 292 147.6 C295 146.8 299.23 146.47 302 147.2 C304.77 147.93 307.55 149.7 308.6 152 C309.65 154.3 309.23 158.33 308.3 161 C307.37 163.67 305.38 166.57 303 168 C300.62 169.43 296.83 169.68 294 169.6 C291.17 169.52 287.97 168.93 286 167.5 C284.03 166.07 282.53 163.58 282.2 161 Z" fill="#9894ce" stroke="#8782c2" stroke-width="0.8"/>
<line x1="265" y1="145.1" x2="271" y2="145.1" stroke="#3d8a4f" stroke-width="1.3"/>
<ellipse cx="261.7" cy="145.1" rx="5" ry="3.4" fill="#5aa86a"/>
<line x1="276.4" y1="171.8" x2="274.5" y2="175" stroke="#1d5d88" stroke-width="1.3"/>
<ellipse cx="273" cy="178" rx="4.6" ry="3.3" transform="rotate(-58 273 178)" fill="#2d86b8" stroke="#1d6a98" stroke-width="0.6"/>
<ellipse cx="268.5" cy="185" rx="4.6" ry="3.3" transform="rotate(-58 268.5 185)" fill="#2d86b8" stroke="#1d6a98" stroke-width="0.6"/>
<line x1="279" y1="118.3" x2="279" y2="103.6" stroke="url(#g8)" stroke-width="2.2" />
<polygon points="279,95.6 283.5,104.6 274.5,104.6" fill="#9a7b2c" />
<text x="285.09" y="112.7" font-size="14.24" font-weight="normal" fill="#1e1e1e" textLength="20.5" lengthAdjust="spacingAndGlyphs">DC</text>
<line x1="214.7" y1="158.6" x2="214.7" y2="139.7" stroke="url(#g9)" stroke-width="2.2" />
<polygon points="214.7,132.7 218.7,140.7 210.7,140.7" fill="#9a7b2c" />
<text x="221.28" y="149.6" font-size="10.76" font-weight="normal" fill="#333" textLength="33.3" lengthAdjust="spacingAndGlyphs">CD11c</text>
<line x1="227.4" y1="200" x2="227.4" y2="183" stroke="url(#g10)" stroke-width="2.2" />
<polygon points="227.4,176 231.4,184 223.4,184" fill="#9a7b2c" />
<text x="233.69" y="192.3" font-size="11.48" font-weight="normal" fill="#333" textLength="27.96" lengthAdjust="spacingAndGlyphs">CD86</text>
<line x1="323.6" y1="156.4" x2="339.8" y2="156.4" stroke="#222222" stroke-width="2.3" />
<polygon points="346.8,156.4 338.8,160.4 338.8,152.4" fill="#222222" />
<polygon points="364.58,140.43 368.4,146.91 371.97,143.3 373.44,148.02 380.91,144.61 377.77,151.34 387.56,151.54 379.57,156.84 384.58,161.78 377.54,161.94 381.69,169.1 373.53,164.94 372.25,169.64 368.3,166.1 363.91,172.46 362.47,164.94 352.99,168.95 357.97,161.3 351.22,160.23 356.43,156.08 348.96,150.75 358.4,151.13 355.34,144.85 362.92,147.87" fill="#f9e852" stroke="#dcc23a" stroke-width="0.9" stroke-linejoin="miter"/>
<text x="358.25" y="161.8" font-size="10.32" font-weight="bold" fill="#111" textLength="17.99" lengthAdjust="spacingAndGlyphs">ATP</text>
</svg></body></html>
